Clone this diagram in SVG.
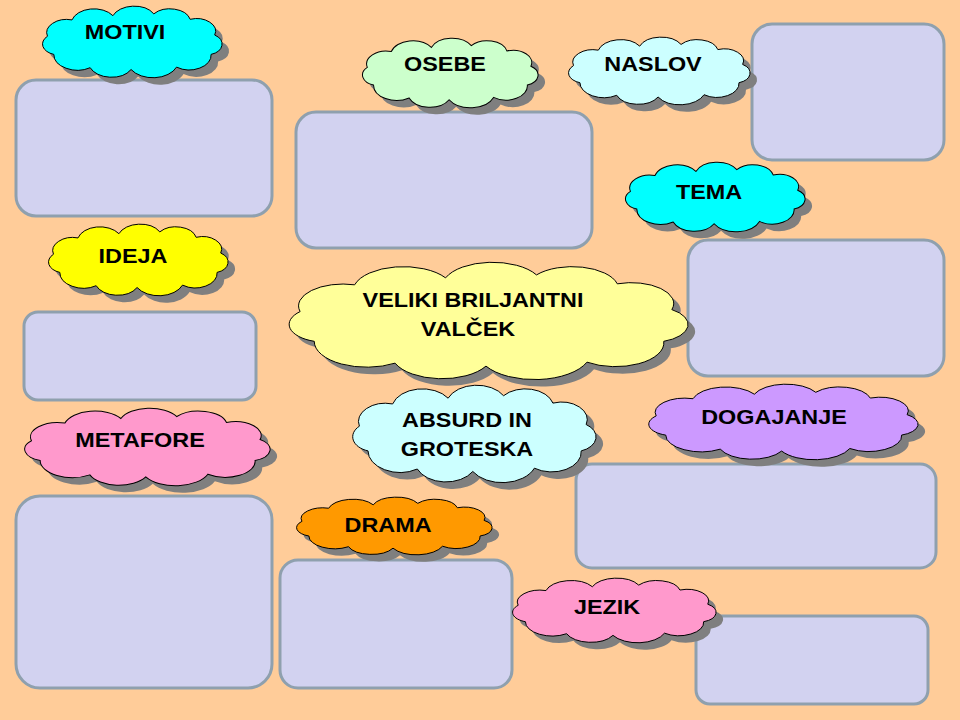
<svg xmlns="http://www.w3.org/2000/svg" xmlns:xlink="http://www.w3.org/1999/xlink" width="960" height="720" viewBox="0 0 960 720">
<style>
.box{fill:#D2D2F0;stroke:#8FA0AE;stroke-width:3}
.sh{fill:#7F7F7F}
.c{stroke:#000;stroke-width:1}
.t{font-family:"Liberation Sans",Arial,sans-serif;font-weight:bold;font-size:20px;text-anchor:middle;fill:#000}
</style>
<defs>
<symbol id="cloud" viewBox="2 -8 198 119" preserveAspectRatio="none" overflow="visible">
<path vector-effect="non-scaling-stroke" d="M15,72 A18,18 0 0 1 8,42 A22,22 0 0 1 35,15 A25,25 0 0 1 80,8 A25,25 0 0 1 125,5 A23,23 0 0 1 165,14 A21,21 0 0 1 192,40 A18,18 0 0 1 188,72 A24,24 0 0 1 150,93 A28,28 0 0 1 100,97 A25,25 0 0 1 55,94 A26,26 0 0 1 15,72 Z"/>
</symbol>
</defs>
<rect width="960" height="720" fill="#FFCC99"/>
<g id="boxes">
<rect id="box1" class="box" x="16" y="80" width="256" height="136" rx="20"/>
<rect id="box2" class="box" x="296" y="112" width="296" height="136" rx="20"/>
<rect id="box3" class="box" x="752" y="24" width="192" height="136" rx="20"/>
<rect id="box4" class="box" x="688" y="240" width="256" height="136" rx="20"/>
<rect id="box5" class="box" x="24" y="312" width="232" height="88" rx="14"/>
<rect id="box6" class="box" x="576" y="464" width="360" height="104" rx="16"/>
<rect id="box7" class="box" x="16" y="496" width="256" height="192" rx="24"/>
<rect id="box8" class="box" x="280" y="560" width="232" height="128" rx="18"/>
<rect id="box9" class="box" x="696" y="616" width="232" height="88" rx="14"/>
</g>
<g id="connectors"></g>
<g id="motivi">
<use xlink:href="#cloud" class="sh" x="49" y="13" width="180" height="72"/>
<use xlink:href="#cloud" class="c" fill="#00FFFF" x="42" y="6" width="180" height="72"/>
<text class="t" transform="translate(125,39) scale(1.17,1)">MOTIVI</text>
</g>
<g id="osebe">
<use xlink:href="#cloud" class="sh" x="369" y="45" width="176" height="70"/>
<use xlink:href="#cloud" class="c" fill="#CCFFCC" x="362" y="38" width="176" height="70"/>
<text class="t" transform="translate(445,71) scale(1.17,1)">OSEBE</text>
</g>
<g id="naslov">
<use xlink:href="#cloud" class="sh" x="575" y="44" width="182" height="68"/>
<use xlink:href="#cloud" class="c" fill="#CCFFFF" x="568" y="37" width="182" height="68"/>
<text class="t" transform="translate(653,71) scale(1.17,1)">NASLOV</text>
</g>
<g id="tema">
<use xlink:href="#cloud" class="sh" x="632" y="169" width="180" height="70"/>
<use xlink:href="#cloud" class="c" fill="#00FFFF" x="625" y="162" width="180" height="70"/>
<text class="t" transform="translate(709,199) scale(1.17,1)">TEMA</text>
</g>
<g id="ideja">
<use xlink:href="#cloud" class="sh" x="55" y="231" width="180" height="72"/>
<use xlink:href="#cloud" class="c" fill="#FFFF00" x="48" y="224" width="180" height="72"/>
<text class="t" transform="translate(133,263) scale(1.17,1)">IDEJA</text>
</g>
<g id="veliki">
<use xlink:href="#cloud" class="sh" x="295" y="269" width="400" height="118"/>
<use xlink:href="#cloud" class="c" fill="#FFFF99" x="288" y="262" width="400" height="118"/>
<text class="t" transform="translate(473,307) scale(1.17,1)">VELIKI BRILJANTNI</text>
<text class="t" transform="translate(468,336) scale(1.17,1)">VALČEK</text>
</g>
<g id="absurd">
<use xlink:href="#cloud" class="sh" x="359" y="392" width="244" height="98"/>
<use xlink:href="#cloud" class="c" fill="#CCFFFF" x="352" y="385" width="244" height="98"/>
<text class="t" transform="translate(467,427) scale(1.17,1)">ABSURD IN</text>
<text class="t" transform="translate(467,456) scale(1.17,1)">GROTESKA</text>
</g>
<g id="dogajanje">
<use xlink:href="#cloud" class="sh" x="655" y="391" width="270" height="76"/>
<use xlink:href="#cloud" class="c" fill="#CC99FF" x="648" y="384" width="270" height="76"/>
<text class="t" transform="translate(774,424) scale(1.17,1)">DOGAJANJE</text>
</g>
<g id="metafore">
<use xlink:href="#cloud" class="sh" x="31" y="415" width="246" height="78"/>
<use xlink:href="#cloud" class="c" fill="#FF99CC" x="24" y="408" width="246" height="78"/>
<text class="t" transform="translate(140,447) scale(1.17,1)">METAFORE</text>
</g>
<g id="drama">
<use xlink:href="#cloud" class="sh" x="303" y="504" width="196" height="58"/>
<use xlink:href="#cloud" class="c" fill="#FF9900" x="296" y="497" width="196" height="58"/>
<text class="t" transform="translate(388,532) scale(1.17,1)">DRAMA</text>
</g>
<g id="jezik">
<use xlink:href="#cloud" class="sh" x="519" y="585" width="204" height="65"/>
<use xlink:href="#cloud" class="c" fill="#FF99CC" x="512" y="578" width="204" height="65"/>
<text class="t" transform="translate(607,614) scale(1.17,1)">JEZIK</text>
</g>
</svg>
